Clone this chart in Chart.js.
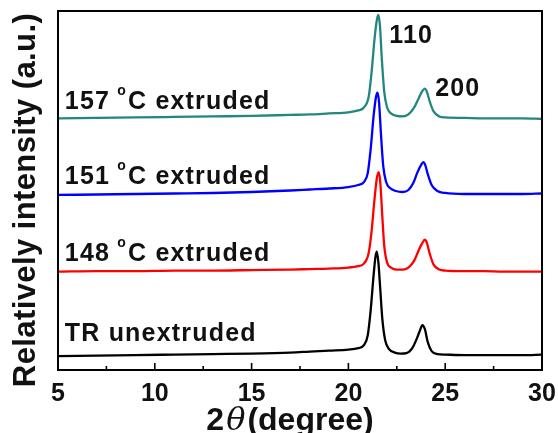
<!DOCTYPE html>
<html>
<head>
<meta charset="utf-8">
<script src="https://cdn.jsdelivr.net/npm/chart.js@4/dist/chart.umd.min.js"></script>
<style>
    html, body { margin: 0; padding: 0; background: #fff; }
    #wrap { width: 558px; height: 433px; }
</style>
</head>
<body>
<div id="wrap"><canvas id="xrdChart" width="558" height="433"></canvas></div>
<script>
// ========== data (intensity in a.u., curves already offset) ==========
const xTicks = [5, 10, 15, 20, 25, 30];

const thetaTR = [5, 7, 9, 11, 13, 15, 17, 18, 19, 20, 20.5, 20.8, 21.0, 21.15, 21.3, 21.4, 21.47, 21.55, 21.65, 21.75, 21.9, 22.1, 22.4, 22.7, 23.0, 23.3, 23.5, 23.7, 23.82, 23.95, 24.1, 24.3, 24.6, 25, 26, 27, 28, 29, 30];
const intTR = [14, 14.5, 15, 15.5, 16, 16.5, 17.5, 18.5, 19.5, 20.5, 22, 25, 35, 60, 95, 114, 119, 108, 80, 52, 30, 21, 17.5, 16.5, 17, 22, 30, 40, 45, 41, 28, 19, 16, 15.5, 15, 15, 15, 15, 15.5];

const theta148 = [5, 7, 9, 11, 13, 15, 17, 18, 19, 20, 20.5, 20.8, 21.05, 21.2, 21.35, 21.47, 21.57, 21.65, 21.75, 21.85, 22.0, 22.2, 22.5, 22.8, 23.1, 23.4, 23.6, 23.8, 23.95, 24.05, 24.2, 24.4, 24.7, 25, 26, 27, 28, 29, 30];
const int148 = [99, 99.5, 99.5, 100, 100, 100.5, 101, 101.5, 102, 103, 104.5, 107, 118, 140, 172, 193, 199, 188, 155, 125, 108, 103, 101, 101, 103, 110, 119, 127, 131, 128, 117, 106, 101, 100, 99.5, 99.5, 99, 99, 99];

const theta151 = [5, 7, 9, 11, 13, 15, 17, 18, 19, 20, 20.5, 20.8, 21.0, 21.15, 21.3, 21.42, 21.5, 21.58, 21.68, 21.8, 21.95, 22.15, 22.45, 22.8, 23.1, 23.35, 23.55, 23.75, 23.87, 23.97, 24.1, 24.3, 24.6, 25, 26, 27, 28, 29, 30];
const int151 = [176, 176.5, 177, 177.5, 178, 179, 180.5, 181.5, 182.5, 184, 186, 189, 198, 222, 255, 274, 279, 270, 238, 205, 189, 183, 180, 179, 181, 188, 198, 206, 209, 206, 197, 186, 180, 178, 177, 177, 177, 177, 177.5];

const theta157 = [5, 7, 9, 11, 13, 15, 17, 18, 19, 20, 20.5, 20.8, 21.05, 21.2, 21.35, 21.47, 21.55, 21.63, 21.72, 21.85, 22.0, 22.2, 22.5, 22.8, 23.1, 23.4, 23.6, 23.8, 23.95, 24.05, 24.2, 24.4, 24.7, 25, 26, 27, 28, 29, 30];
const int157 = [253, 253.5, 254, 254.5, 255, 255.5, 256.5, 257, 258, 259, 261, 264, 275, 300, 333, 352, 357, 346, 315, 280, 264, 258, 255.5, 255, 257, 264, 272, 280, 283, 280, 270, 260, 255, 254, 253.5, 253, 253, 253, 252.5];

// curve labels: [pre, superscript, post, x (deg), y (a.u.)]
const curveLabels = [
    ['157 ', 'o', 'C extruded', 5.35, 262],
    ['151 ', 'o', 'C extruded', 5.35, 187],
    ['148 ', 'o', 'C extruded', 5.35, 110],
    ['TR unextruded', '', '', 5.35, 29]
];
// peak indices: [text, x (deg), y (a.u.)]
const peakLabels = [
    ['110', 22.11, 329],
    ['200', 24.48, 276]
];

const FONT = '"Liberation Sans", Arial, sans-serif';
let xrdChart = null;

function toPoints(xs, ys) {
    return xs.map((x, i) => ({ x: x, y: ys[i] }));
}

// ========== frame, inward ticks and text ==========
const decorPlugin = {
    id: 'decor',
    afterDraw(chart) {
        const ctx = chart.ctx;
        const area = chart.chartArea;
        const xs = chart.scales.x;
        const ys = chart.scales.y;
        ctx.save();

        // inward ticks on the bottom axis
        ctx.strokeStyle = '#000';
        ctx.lineWidth = 1.6;
        xs.ticks.forEach(t => {
            const px = xs.getPixelForValue(t.value);
            const len = (t.value % 5 === 0) ? 7 : 4;
            ctx.beginPath();
            ctx.moveTo(px, area.bottom);
            ctx.lineTo(px, area.bottom - len);
            ctx.stroke();
        });

        // box
        ctx.lineWidth = 2;
        ctx.strokeRect(area.left, area.top, area.right - area.left, area.bottom - area.top);

        // curve labels
        ctx.fillStyle = '#111';
        ctx.textBaseline = 'alphabetic';
        ctx.textAlign = 'left';
        ctx.letterSpacing = '1.2px';
        curveLabels.forEach(l => {
            let px = xs.getPixelForValue(l[3]);
            const py = ys.getPixelForValue(l[4]);
            ctx.font = 'bold 25px ' + FONT;
            ctx.fillText(l[0], px, py);
            px += ctx.measureText(l[0]).width;
            if (l[1]) {
                ctx.font = 'bold 14px ' + FONT;
                ctx.fillText(l[1], px - 1, py - 14);
                px += ctx.measureText(l[1]).width;
                ctx.font = 'bold 25px ' + FONT;
                ctx.fillText(l[2], px, py);
            }
        });
        ctx.font = 'bold 25px ' + FONT;
        peakLabels.forEach(l => {
            ctx.fillText(l[0], xs.getPixelForValue(l[1]), ys.getPixelForValue(l[2]));
        });

        // y axis title
        ctx.letterSpacing = '0.4px';
        ctx.save();
        ctx.translate(26, 200);
        ctx.rotate(-Math.PI / 2);
        ctx.textAlign = 'center';
        ctx.textBaseline = 'middle';
        ctx.font = 'bold 31px ' + FONT;
        ctx.fillText('Relatively intensity (a.u.)', 0, 0);
        ctx.restore();

        // x axis title with italic theta
        ctx.letterSpacing = '0px';
        const parts = [
            ['2', 'bold 32px ' + FONT],
            ['\u03B8', 'italic 32px "DejaVu Serif", serif'],
            ['(degree)', 'bold 32px ' + FONT]
        ];
        let total = 0;
        parts.forEach(p => { ctx.font = p[1]; total += ctx.measureText(p[0]).width + 2; });
        let tx = 291 - total / 2;
        parts.forEach(p => {
            ctx.font = p[1];
            ctx.fillText(p[0], tx, 430);
            tx += ctx.measureText(p[0]).width + 2;
        });
        ctx.restore();
    }
};

function initXrdChart() {
    const canvas = document.getElementById('xrdChart');
    if (!canvas) return;
    const ctx = canvas.getContext('2d');

    if (xrdChart) xrdChart.destroy();

    const series = [
        { data: toPoints(thetaTR, intTR), color: '#000000' },
        { data: toPoints(theta148, int148), color: '#ff0000' },
        { data: toPoints(theta151, int151), color: '#0000ff' },
        { data: toPoints(theta157, int157), color: '#21877f' }
    ];

    xrdChart = new Chart(ctx, {
        type: 'line',
        data: {
            datasets: series.map(s => ({
                data: s.data,
                borderColor: s.color,
                backgroundColor: 'transparent',
                borderWidth: 2.3,
                pointRadius: 0,
                cubicInterpolationMode: 'monotone',
                fill: false
            }))
        },
        options: {
            responsive: false,
            animation: false,
            events: [],
            layout: { padding: { top: 11, right: 16, bottom: 14, left: 58 } },
            scales: {
                x: {
                    type: 'linear',
                    min: xTicks[0],
                    max: xTicks[xTicks.length - 1],
                    grid: { display: false, drawTicks: false },
                    border: { display: false },
                    afterFit(scale) {
                        scale.paddingLeft = 0;
                        scale.paddingRight = 0;
                    },
                    ticks: {
                        stepSize: 2.5,
                        padding: 12,
                        color: '#111',
                        maxRotation: 0,
                        autoSkip: false,
                        font: { family: FONT, size: 25, weight: 'bold', lineHeight: 1 },
                        callback: v => (xTicks.includes(v) ? String(v) : '')
                    }
                },
                y: {
                    display: false,
                    min: 0,
                    max: 361
                }
            },
            plugins: {
                legend: { display: false },
                tooltip: { enabled: false }
            }
        },
        plugins: [decorPlugin]
    });
}

initXrdChart();
</script>
</body>
</html>
